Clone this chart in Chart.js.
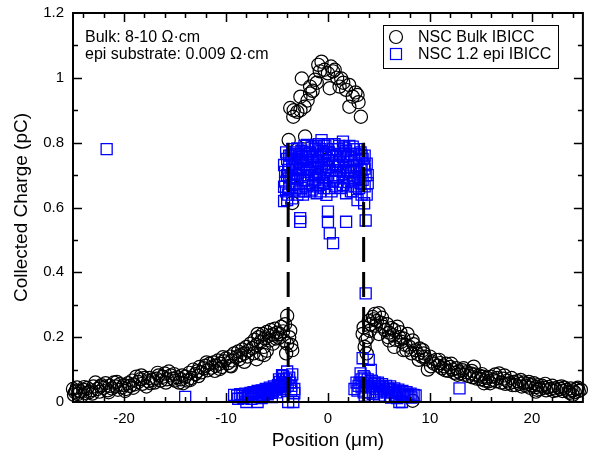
<!DOCTYPE html>
<html>
<head>
<meta charset="utf-8">
<script src="https://cdn.jsdelivr.net/npm/chart.js@4.4.1/dist/chart.umd.min.js"></script>
<style>
  html, body { margin: 0; padding: 0; background: #fff; }
  #wrap { width: 592px; height: 457px; }
</style>
</head>
<body>
<div id="wrap"><canvas id="c" width="592" height="457"></canvas></div>
<script>
// NSC Bulk IBICC - position (um) / collected charge (pC)
const bulkPos = [
  -25.0, -24.9, -24.8, -24.6, -24.5, -24.3, -24.1, -24.0, -23.8, -23.6, -23.4, -23.2, -23.0, -22.8, -22.6, -22.4,
  -22.2, -22.0, -21.8, -21.6, -21.4, -21.2, -21.0, -20.8, -20.6, -20.4, -20.2, -20.0, -19.8, -19.6, -19.4, -19.2,
  -19.0, -18.8, -18.6, -18.4, -18.2, -18.0, -17.8, -17.6, -17.4, -17.2, -17.0, -16.8, -16.6, -16.4, -16.2, -16.0,
  -15.8, -15.6, -15.4, -15.2, -15.0, -14.8, -14.6, -14.4, -14.2, -14.0, -13.8, -13.6, -13.4, -13.2, -13.0, -12.8,
  -12.6, -12.4, -12.2, -12.0, -11.8, -11.6, -11.4, -11.2, -11.0, -10.8, -10.6, -10.4, -10.2, -10.0, -9.8, -9.6,
  -9.4, -9.2, -9.0, -8.8, -8.6, -8.4, -8.2, -8.0, -7.8, -7.6, -7.4, -7.2, -7.0, -6.8, -6.6, -6.4,
  -6.2, -6.0, -5.8, -5.6, -5.4, -5.2, -5.0, -4.8, -4.6, -4.4, -4.2, -4.0, -3.8, -3.6, -3.5,
  -7.0, -6.6, -6.25, -6.0, -5.4, -8.2, -3.7, -4.0, -4.1, -9.6, -10.6,
  -24.7, -23.9, -23.1, -22.3, -21.5, -20.7, -19.9, -19.1, -18.3, -17.5, -16.7, -15.9, -15.1, -14.3, -13.5,
  -12.7, -11.9, -11.1, -10.3, -9.5, -8.7, -7.9, -7.3, -6.9, -6.3, -5.7, -5.1, -4.7, -4.3,
  -3.85, -3.7, -3.5, -3.4, -3.36, -3.0, -2.7, -2.7, -2.56, -2.3, -2.24, -2.0, -1.75, -1.75, -1.5, -1.27,
  -1.1, -0.95, -0.8, -0.63, -0.34, 0.0, 0.18, 0.3, 0.5, 0.66, 0.9, 1.14, 1.3, 1.5, 1.78, 2.08,
  2.1, 2.43, 2.7, 2.9, 3.0, 3.23, -3.0, -2.0, -1.0, 0.0, 1.0, 2.0, 3.0,
  3.4, 3.5, 3.6, 3.7, 3.8, 3.9, 4.0, 4.2, 4.4, 4.5, 4.6, 4.8, 5.0, 5.2, 5.4, 5.6,
  5.8, 6.0, 6.2, 6.4, 6.6, 6.8, 7.0, 7.2, 7.4, 7.6, 7.8, 8.0, 8.2, 8.4, 8.6, 8.8,
  9.0, 9.2, 9.4, 9.6, 9.8, 10.0, 10.2, 10.4, 10.6, 10.8, 11.0, 11.2, 11.4, 11.6, 11.8, 12.0,
  12.2, 12.4, 12.6, 12.8, 13.0, 13.2, 13.4, 13.6, 13.8, 14.0, 14.2, 14.4, 14.6, 14.8, 15.0, 15.2,
  15.4, 15.6, 15.8, 16.0, 16.2, 16.4, 16.6, 16.8, 17.0, 17.2, 17.4, 17.6, 17.8, 18.0, 18.2, 18.4,
  18.6, 18.8, 19.0, 19.2, 19.4, 19.6, 19.8, 20.0, 20.2, 20.4, 20.6, 20.8, 21.0, 21.2, 21.4, 21.6,
  21.8, 22.0, 22.2, 22.4, 22.6, 22.8, 23.0, 23.2, 23.4, 23.6, 23.8, 24.0, 24.2, 24.4, 24.6, 24.8,
  8.3, 5.0, 6.0, 6.5, 7.4, 9.5, 14.3, 15.3, 20.4, 24.0,
  4.1, 4.7, 5.3, 5.9, 6.5, 7.1, 7.7, 8.3, 8.9, 9.3, 10.1, 10.9, 11.5, 12.1, 12.7,
  13.3, 14.1, 15.1, 15.9, 16.5, 17.3, 18.1, 18.9, 19.7, 20.5, 21.3, 22.1, 22.9, 23.7, 24.5
];
const bulkCharge = [
  0.040, 0.022, 0.030, 0.045, 0.025, 0.033, 0.020, 0.038, 0.028, 0.043, 0.030, 0.036, 0.048, 0.060, 0.040, 0.032,
  0.052, 0.044, 0.058, 0.036, 0.050, 0.042, 0.060, 0.048, 0.038, 0.055, 0.045, 0.052, 0.040, 0.058, 0.050, 0.066,
  0.054, 0.078, 0.062, 0.070, 0.056, 0.074, 0.048, 0.064, 0.058, 0.068, 0.060, 0.072, 0.082, 0.066, 0.078, 0.088,
  0.070, 0.094, 0.082, 0.072, 0.066, 0.076, 0.060, 0.070, 0.058, 0.078, 0.066, 0.090, 0.074, 0.100, 0.086, 0.095,
  0.108, 0.092, 0.104, 0.112, 0.098, 0.118, 0.106, 0.122, 0.112, 0.128, 0.118, 0.108, 0.126, 0.134, 0.120, 0.140,
  0.128, 0.150, 0.138, 0.156, 0.144, 0.162, 0.150, 0.170, 0.158, 0.180, 0.166, 0.192, 0.176, 0.200, 0.186, 0.210,
  0.196, 0.216, 0.204, 0.222, 0.208, 0.226, 0.214, 0.198, 0.232, 0.218, 0.240, 0.266, 0.200, 0.176, 0.160,
  0.132, 0.148, 0.145, 0.158, 0.180, 0.124, 0.220, 0.180, 0.150, 0.112, 0.102,
  0.035, 0.046, 0.026, 0.048, 0.030, 0.062, 0.034, 0.044, 0.082, 0.074, 0.090, 0.060, 0.086, 0.082, 0.068,
  0.080, 0.122, 0.096, 0.138, 0.110, 0.132, 0.140, 0.150, 0.210, 0.170, 0.190, 0.196, 0.210, 0.190,
  0.808, 0.907, 0.614, 0.880, 0.900, 0.895, 0.900, 0.942, 0.998, 0.911, 0.819, 0.930, 0.952, 0.973, 0.960, 0.994,
  0.985, 1.040, 1.020, 1.050, 1.025, 1.014, 0.968, 1.035, 1.020, 1.025, 1.000, 0.973, 0.998, 0.985, 0.963, 0.978,
  0.911, 0.942, 0.955, 0.947, 0.925, 0.880, 0.700, 0.720, 0.740, 0.750, 0.730, 0.710, 0.690,
  0.210, 0.230, 0.170, 0.190, 0.150, 0.200, 0.250, 0.240, 0.262, 0.255, 0.272, 0.250, 0.274, 0.245, 0.232, 0.222,
  0.240, 0.214, 0.228, 0.206, 0.192, 0.232, 0.200, 0.186, 0.196, 0.176, 0.210, 0.170, 0.150, 0.178, 0.160, 0.148,
  0.165, 0.140, 0.150, 0.132, 0.100, 0.140, 0.125, 0.118, 0.130, 0.112, 0.120, 0.104, 0.110, 0.118, 0.096, 0.108,
  0.100, 0.090, 0.104, 0.094, 0.088, 0.098, 0.084, 0.092, 0.080, 0.088, 0.076, 0.085, 0.072, 0.082, 0.070, 0.078,
  0.066, 0.075, 0.064, 0.078, 0.068, 0.085, 0.074, 0.088, 0.060, 0.072, 0.056, 0.066, 0.058, 0.074, 0.062, 0.052,
  0.064, 0.056, 0.048, 0.060, 0.050, 0.056, 0.044, 0.052, 0.058, 0.046, 0.052, 0.040, 0.050, 0.044, 0.036, 0.046,
  0.040, 0.050, 0.042, 0.036, 0.046, 0.040, 0.034, 0.044, 0.038, 0.032, 0.042, 0.036, 0.030, 0.040, 0.034, 0.038,
  0.004, 0.210, 0.190, 0.170, 0.160, 0.140, 0.109, 0.058, 0.032, 0.022,
  0.220, 0.235, 0.260, 0.200, 0.222, 0.215, 0.160, 0.190, 0.130, 0.160, 0.110, 0.130, 0.098, 0.118, 0.084,
  0.104, 0.096, 0.086, 0.058, 0.064, 0.082, 0.052, 0.068, 0.062, 0.038, 0.056, 0.034, 0.048, 0.028, 0.044
];

// NSC 1.2 epi IBICC
const epiPos = [
  -21.7, -14.0, 12.9, 3.7,
  -9.2, -8.9, -8.6, -8.4, -8.0, -8.1, -7.8, -7.6, -7.4, -7.2, -7.0, -6.9, -6.8, -6.6, -6.4, -6.2,
  -6.0, -5.8, -5.6, -5.4, -5.2, -5.0, -4.8, -4.6, -4.5, -4.4, -4.3, -4.2, -4.1, -4.0, -3.95, -3.9,
  -3.7, -3.6, -3.4, -3.3, -4.8, -4.4, -3.5, -5.5, -6.5, -7.5,
  -8.8, -8.3, -7.9, -7.5, -7.1, -6.7, -6.3, -5.9, -5.5, -5.1, -4.9, -4.7, -4.5, -4.3, -4.2, -3.8,
  -3.6, -3.3, -5.3, -5.7, -6.1, -6.5, -6.9, -7.3,
  2.6, 2.8, 3.0, 3.2, 3.3, 3.4, 3.5, 3.6, 3.8, 4.0, 4.1, 4.2, 4.3, 4.5, 4.7, 4.9,
  5.1, 5.3, 5.5, 5.7, 5.9, 6.1, 6.3, 6.5, 6.7, 6.9, 7.0, 7.1, 7.26, 7.3, 7.5, 7.7,
  7.9, 8.1, 8.4, 8.6, 3.6, 4.4, 5.0, 5.6, 6.2, 6.8,
  2.9, 3.1, 3.3, 3.5, 3.7, 3.9, 4.1, 4.3, 4.6, 4.8, 5.0, 5.2, 5.4, 5.8, 6.0, 6.4,
  6.6, 7.0, 7.4, 7.8, 8.2,
  -4.3, -4.3, -4.3, -4.2, -4.2, -4.0, -4.0, -4.0, -3.8, -3.8, -3.8, -3.8,
  -3.5, -3.5, -3.5, -3.5, -3.5, -3.2, -3.2, -3.2, -3.2, -3.0, -3.0, -3.0, -3.0,
  -2.72, -2.72, -2.72, -2.72, -2.6, -2.6, -2.6, -2.6, -2.3, -2.3, -2.3, -2.3,
  -2.07, -2.07, -2.07, -1.9, -1.9, -1.9, -1.6, -1.6, -1.6, -1.6, -1.3, -1.3, -1.3,
  -1.1, -1.1, -1.1, -0.9, -0.9, -0.9, -0.9, -0.63, -0.63, -0.63, -0.4, -0.4, -0.4, -0.4,
  -0.15, -0.15, -0.15, 0.0, 0.0, 0.0, 0.0, 0.0, 0.18, 0.5, 0.5, 0.5, 0.5,
  0.8, 0.8, 0.8, 1.1, 1.1, 1.1, 1.47, 1.47, 1.47, 1.47, 1.78, 1.78, 1.78, 1.78,
  2.1, 2.1, 2.1, 2.43, 2.43, 2.43, 2.43, 2.7, 2.7, 2.7, 2.9, 2.9, 2.9,
  3.2, 3.2, 3.2, 3.4, 3.4, 3.55, 3.55, 3.7, 3.7, 3.9, 3.9,
  -4.1, -4.1, -3.9, -3.9, -3.65, -3.65, -3.35, -3.35, -3.1, -3.1, -3.1, -2.85, -2.85, -2.85,
  -2.45, -2.45, -2.45, -2.2, -2.2, -1.75, -1.75, -1.75, -1.45, -1.45, -1.2, -1.2, -1.0, -1.0,
  -0.75, -0.75, -0.75, -0.5, -0.5, -0.25, -0.25, -0.25, 0.1, 0.1, 0.1, 0.35, 0.35, 0.35,
  0.65, 0.65, 0.65, 0.95, 0.95, 0.95, 1.25, 1.25, 1.25, 1.6, 1.6, 1.6, 1.95, 1.95, 1.95,
  2.25, 2.25, 2.25, 2.55, 2.55, 2.55, 2.8, 2.8, 3.05, 3.05, 3.05, 3.3, 3.3, 3.3,
  3.6, 3.6, 3.6, 3.8, 3.8
];
const epiCharge = [
  0.780, 0.016, 0.042, 0.335,
  0.022, 0.020, 0.024, 0.018, 0.000, 0.026, 0.022, 0.028, 0.024, 0.030, 0.026, 0.000, 0.032, 0.028, 0.034, 0.030,
  0.036, 0.032, 0.038, 0.034, 0.042, 0.038, 0.046, 0.050, 0.083, 0.055, 0.040, 0.060, 0.070, 0.094, 0.050, 0.000,
  0.060, 0.035, 0.000, 0.027, 0.070, 0.080, 0.085, 0.015, 0.012, 0.010,
  0.010, 0.012, 0.016, 0.018, 0.020, 0.018, 0.022, 0.024, 0.028, 0.030, 0.052, 0.062, 0.040, 0.072, 0.045, 0.075,
  0.050, 0.040, 0.048, 0.044, 0.040, 0.036, 0.034, 0.030,
  0.040, 0.060, 0.050, 0.088, 0.070, 0.135, 0.030, 0.075, 0.060, 0.130, 0.045, 0.099, 0.065, 0.055, 0.040, 0.060,
  0.045, 0.055, 0.035, 0.050, 0.040, 0.048, 0.030, 0.042, 0.028, 0.038, 0.000, 0.024, 0.000, 0.034, 0.022, 0.030,
  0.018, 0.026, 0.022, 0.020, 0.020, 0.025, 0.020, 0.018, 0.014, 0.012,
  0.035, 0.060, 0.045, 0.080, 0.050, 0.070, 0.030, 0.050, 0.060, 0.030, 0.050, 0.035, 0.045, 0.030, 0.040, 0.036,
  0.020, 0.030, 0.016, 0.024, 0.014,
  0.731, 0.664, 0.620, 0.710, 0.680, 0.623, 0.750, 0.700, 0.760, 0.690, 0.660, 0.730,
  0.628, 0.780, 0.720, 0.670, 0.745, 0.765, 0.705, 0.655, 0.735, 0.782, 0.690, 0.750, 0.640,
  0.567, 0.556, 0.740, 0.700, 0.775, 0.720, 0.660, 0.755, 0.790, 0.730, 0.685, 0.650,
  0.793, 0.745, 0.700, 0.765, 0.715, 0.675, 0.785, 0.740, 0.700, 0.655, 0.780, 0.725, 0.685,
  0.644, 0.760, 0.710, 0.795, 0.745, 0.695, 0.670, 0.808, 0.755, 0.720, 0.790, 0.735, 0.690, 0.660,
  0.639, 0.770, 0.715, 0.587, 0.556, 0.795, 0.745, 0.700, 0.520, 0.490, 0.780, 0.730, 0.680,
  0.760, 0.715, 0.665, 0.790, 0.740, 0.700, 0.803, 0.755, 0.710, 0.670, 0.556, 0.644, 0.775, 0.725,
  0.790, 0.745, 0.690, 0.788, 0.730, 0.680, 0.650, 0.765, 0.710, 0.665, 0.623, 0.745, 0.690,
  0.770, 0.720, 0.675, 0.685, 0.750, 0.613, 0.730, 0.560, 0.700, 0.700, 0.675,
  0.650, 0.770, 0.640, 0.715, 0.700, 0.760, 0.690, 0.750, 0.660, 0.720, 0.770, 0.650, 0.715, 0.760,
  0.640, 0.700, 0.745, 0.665, 0.770, 0.650, 0.720, 0.770, 0.670, 0.755, 0.700, 0.790, 0.665, 0.730,
  0.650, 0.705, 0.780, 0.675, 0.765, 0.690, 0.745, 0.790, 0.660, 0.725, 0.770, 0.650, 0.700, 0.760,
  0.690, 0.745, 0.795, 0.680, 0.730, 0.780, 0.660, 0.715, 0.765, 0.690, 0.740, 0.785, 0.665, 0.715, 0.760,
  0.650, 0.710, 0.765, 0.690, 0.745, 0.780, 0.730, 0.780, 0.660, 0.705, 0.750, 0.640, 0.715, 0.760,
  0.665, 0.720, 0.760, 0.640, 0.735
];

// depletion edges (dashed guides)
const edgeLeft = -3.9;
const edgeRight = 3.5;
const edgeTop = 0.8;

const xMajorTicks = [-20, -10, 0, 10, 20];
const yMajorTicks = [0, 0.2, 0.4, 0.6, 0.8, 1.0, 1.2];

const legendLabels = ['NSC Bulk IBICC', 'NSC 1.2 epi IBICC'];
const noteLines = ['Bulk: 8-10 \u03A9\u00B7cm', 'epi substrate: 0.009 \u03A9\u00B7cm'];

const FONT = "'Liberation Sans', Arial, Helvetica, sans-serif";
Chart.defaults.font.family = FONT;
Chart.defaults.color = '#000';

function toPoints(xs, ys) {
  return xs.map((x, i) => ({ x: x, y: ys[i] }));
}

// frame, inward ticks on all four sides, legend box and note
const framePlugin = {
  id: 'frame',
  afterDatasetsDraw(chart) {
    const ctx = chart.ctx;
    const a = chart.chartArea;
    const xs = chart.scales.x, ys = chart.scales.y;
    ctx.save();
    ctx.strokeStyle = '#000';
    ctx.lineWidth = 1.5;
    ctx.beginPath();
    for (let k = -24; k <= 24; k += 2) {
      const px = Math.round(xs.getPixelForValue(k)) + 0.5;
      const len = k % 10 === 0 ? 9 : 5;
      ctx.moveTo(px, a.bottom); ctx.lineTo(px, a.bottom - len);
      ctx.moveTo(px, a.top); ctx.lineTo(px, a.top + len);
    }
    for (let k = 1; k <= 11; k++) {
      const py = Math.round(ys.getPixelForValue(k / 10)) + 0.5;
      const len = k % 2 === 0 ? 9 : 5;
      ctx.moveTo(a.left, py); ctx.lineTo(a.left + len, py);
      ctx.moveTo(a.right, py); ctx.lineTo(a.right - len, py);
    }
    ctx.stroke();
    ctx.lineWidth = 2;
    ctx.strokeRect(a.left, a.top, a.right - a.left, a.bottom - a.top);

    // legend
    const lx = a.left + 310, ly = a.top + 12;
    ctx.lineWidth = 1;
    ctx.strokeRect(lx + 0.5, ly + 0.5, 175, 43);
    ctx.lineWidth = 1.2;
    ctx.beginPath();
    ctx.arc(lx + 13, ly + 12, 6.5, 0, Math.PI * 2);
    ctx.strokeStyle = '#000';
    ctx.stroke();
    ctx.strokeStyle = '#0000ff';
    ctx.strokeRect(lx + 7.5, ly + 23.5, 11, 11);
    ctx.fillStyle = '#000';
    ctx.font = '16px ' + FONT;
    ctx.textBaseline = 'middle';
    ctx.textAlign = 'left';
    ctx.fillText(legendLabels[0], lx + 35, ly + 12.5);
    ctx.fillText(legendLabels[1], lx + 35, ly + 29.5);

    // note
    ctx.textBaseline = 'alphabetic';
    ctx.fillText(noteLines[0], a.left + 12, a.top + 29);
    ctx.fillText(noteLines[1], a.left + 12, a.top + 45.5);
    ctx.restore();
  }
};

new Chart(document.getElementById('c'), {
  type: 'scatter',
  data: {
    datasets: [
      {
        type: 'line', label: 'edgeL', data: [{ x: edgeLeft, y: 0 }, { x: edgeLeft, y: edgeTop }],
        borderColor: '#000', borderWidth: 3, borderDash: [25, 10], pointRadius: 0, order: 1
      },
      {
        type: 'line', label: 'edgeR', data: [{ x: edgeRight, y: 0 }, { x: edgeRight, y: edgeTop }],
        borderColor: '#000', borderWidth: 3, borderDash: [25, 10], pointRadius: 0, order: 1
      },
      {
        label: legendLabels[1], data: toPoints(epiPos, epiCharge),
        pointStyle: 'rect', pointRadius: 7.8, borderWidth: 1.3,
        borderColor: '#0000ff', backgroundColor: 'rgba(0,0,0,0)', clip: false, order: 2
      },
      {
        label: legendLabels[0], data: toPoints(bulkPos, bulkCharge),
        pointStyle: 'circle', pointRadius: 6.6, borderWidth: 1.2,
        borderColor: '#000', backgroundColor: 'rgba(0,0,0,0)', clip: false, order: 3
      }
    ]
  },
  options: {
    responsive: false,
    animation: false,
    devicePixelRatio: 1,
    layout: { padding: { top: 13, right: 1, left: 0, bottom: 0 } },
    plugins: { legend: { display: false }, tooltip: { enabled: false } },
    scales: {
      x: {
        type: 'linear', min: -25, max: 25,
        afterBuildTicks: s => { s.ticks = xMajorTicks.map(v => ({ value: v })); },
        afterFit: s => { s.height = 55; s.paddingLeft = 0; s.paddingRight = 0; },
        grid: { display: false, drawTicks: false },
        border: { display: false },
        ticks: { padding: 8, font: { size: 15 }, color: '#000', maxRotation: 0,
          callback: v => String(v) },
        title: { display: true, text: 'Position (\u03BCm)', font: { size: 19 }, color: '#000',
          padding: { top: 0, bottom: 5 } }
      },
      y: {
        type: 'linear', min: 0, max: 1.2,
        afterBuildTicks: s => { s.ticks = yMajorTicks.map(v => ({ value: v })); },
        afterFit: s => { s.width = 73; s.paddingTop = 0; s.paddingBottom = 0; },
        grid: { display: false, drawTicks: false },
        border: { display: false },
        ticks: { padding: 9, font: { size: 15 }, color: '#000',
          callback: v => String(Math.round(v * 10) / 10) },
        title: { display: true, text: 'Collected Charge (pC)', font: { size: 19 }, color: '#000',
          padding: { top: 10, bottom: 0 } }
      }
    }
  },
  plugins: [framePlugin]
});
</script>
</body>
</html>
